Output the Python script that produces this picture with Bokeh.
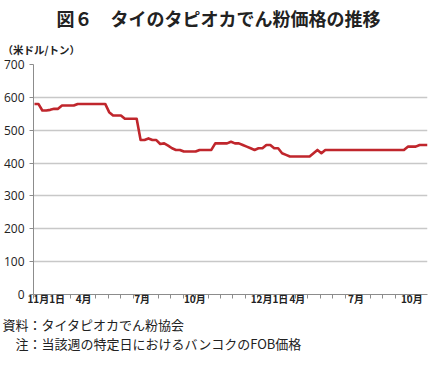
from bokeh.plotting import figure
from bokeh.models import FixedTicker, Title
from bokeh.embed import file_html
from bokeh.resources import INLINE

# weekly FOB price (US$/ton), one value per week
prices = [580, 580, 560, 560, 562, 565, 565, 575, 575, 575, 575, 580, 580, 580, 580, 580, 580, 580, 580,
          555, 545, 545, 545, 535, 535, 535, 535,
          470, 470, 475, 470, 470, 458, 460, 453, 445, 440, 440, 435, 435, 435, 435, 440, 440, 440, 440,
          460, 460, 460, 460, 465, 460, 460, 455, 450, 445, 440, 445, 445, 455, 455, 445, 445,
          430, 425, 420, 420, 420, 420, 420, 420, 430, 440, 430, 440] + [440] * 20 + \
         [450, 450, 450, 455, 455, 455]
weeks = list(range(len(prices)))

# category labels and the week they sit at
x_labels = ["11月1日", "4月", "7月", "10月", "12月1日", "4月", "7月", "10月"]
x_label_weeks = [3, 12.5, 27.4, 40.8, 59.8, 66.9, 81.8, 96]

y_ticks = [0, 100, 200, 300, 400, 500, 600, 700]

title_text = "図６　タイのタピオカでん粉価格の推移"
unit_text = "（米ドル/トン）"
note1 = "資料：タイタピオカでん粉協会"
note2 = "\u3000注：当該週の特定日におけるバンコクのFOB価格"

JP = "Noto Sans CJK JP"

p = figure(width=428, height=356, output_backend="svg", toolbar_location=None,
           x_range=(-0.25, len(prices) - 1), y_range=(0, 700),
           min_border_left=31, min_border_right=1, min_border_top=0, min_border_bottom=0)
p.outline_line_color = None
p.background_fill_color = "white"
p.border_fill_color = "white"

p.line(weeks, prices, line_color="#C0262C", line_width=2.6, line_join="round")

# y axis
p.yaxis.ticker = FixedTicker(ticks=y_ticks)
p.yaxis.axis_line_color = "#8C8C8C"
p.yaxis.major_tick_line_color = "#8C8C8C"
p.yaxis.major_tick_out = 4
p.yaxis.major_tick_in = 0
p.yaxis.minor_tick_line_color = None
p.yaxis.major_label_text_font = "Open Sans"
p.yaxis.major_label_text_font_size = "12px"
p.yaxis.major_label_text_color = "#222222"
p.yaxis.major_label_standoff = 5
p.ygrid.ticker = FixedTicker(ticks=y_ticks[1:])
p.ygrid.grid_line_color = "#C8C8C8"
p.ygrid.grid_line_width = 1.6

# x axis
step = (len(prices) - 1 + 0.25) / 31.6
minor = [-0.25 + k * step for k in range(32)]
p.xaxis.ticker = FixedTicker(ticks=x_label_weeks, minor_ticks=minor)
p.xaxis.major_label_overrides = {w: t for w, t in zip(x_label_weeks, x_labels)}
p.xaxis.axis_line_color = "#8C8C8C"
p.xaxis.major_tick_out = 0
p.xaxis.major_tick_in = 0
p.xaxis.minor_tick_line_color = "#8C8C8C"
p.xaxis.minor_tick_out = 4
p.xaxis.minor_tick_in = 0
p.xaxis.major_label_text_font = JP
p.xaxis.major_label_text_font_style = "bold"
p.xaxis.major_label_text_font_size = "10px"
p.xaxis.major_label_text_color = "#222222"
p.xaxis.major_label_standoff = -8
p.xgrid.grid_line_color = None

# titles and notes (stacked outward from the frame)
p.add_layout(Title(text=unit_text, align="left", offset=-31, standoff=15,
                   text_font=JP, text_font_size="10.5px", text_font_style="bold",
                   text_color="#222222"), "above")
p.add_layout(Title(text=title_text, align="left", offset=23, standoff=4,
                   text_font=JP, text_font_size="18px", text_font_style="bold",
                   text_color="#222222"), "above")
p.add_layout(Title(text=note1 + "\n" + note2, align="left", offset=-31, standoff=8,
                   text_font=JP, text_font_size="13px", text_font_style="normal",
                   text_line_height=1.0, text_color="#222222"), "below")

open("out.html", "w").write(file_html(p, INLINE))
